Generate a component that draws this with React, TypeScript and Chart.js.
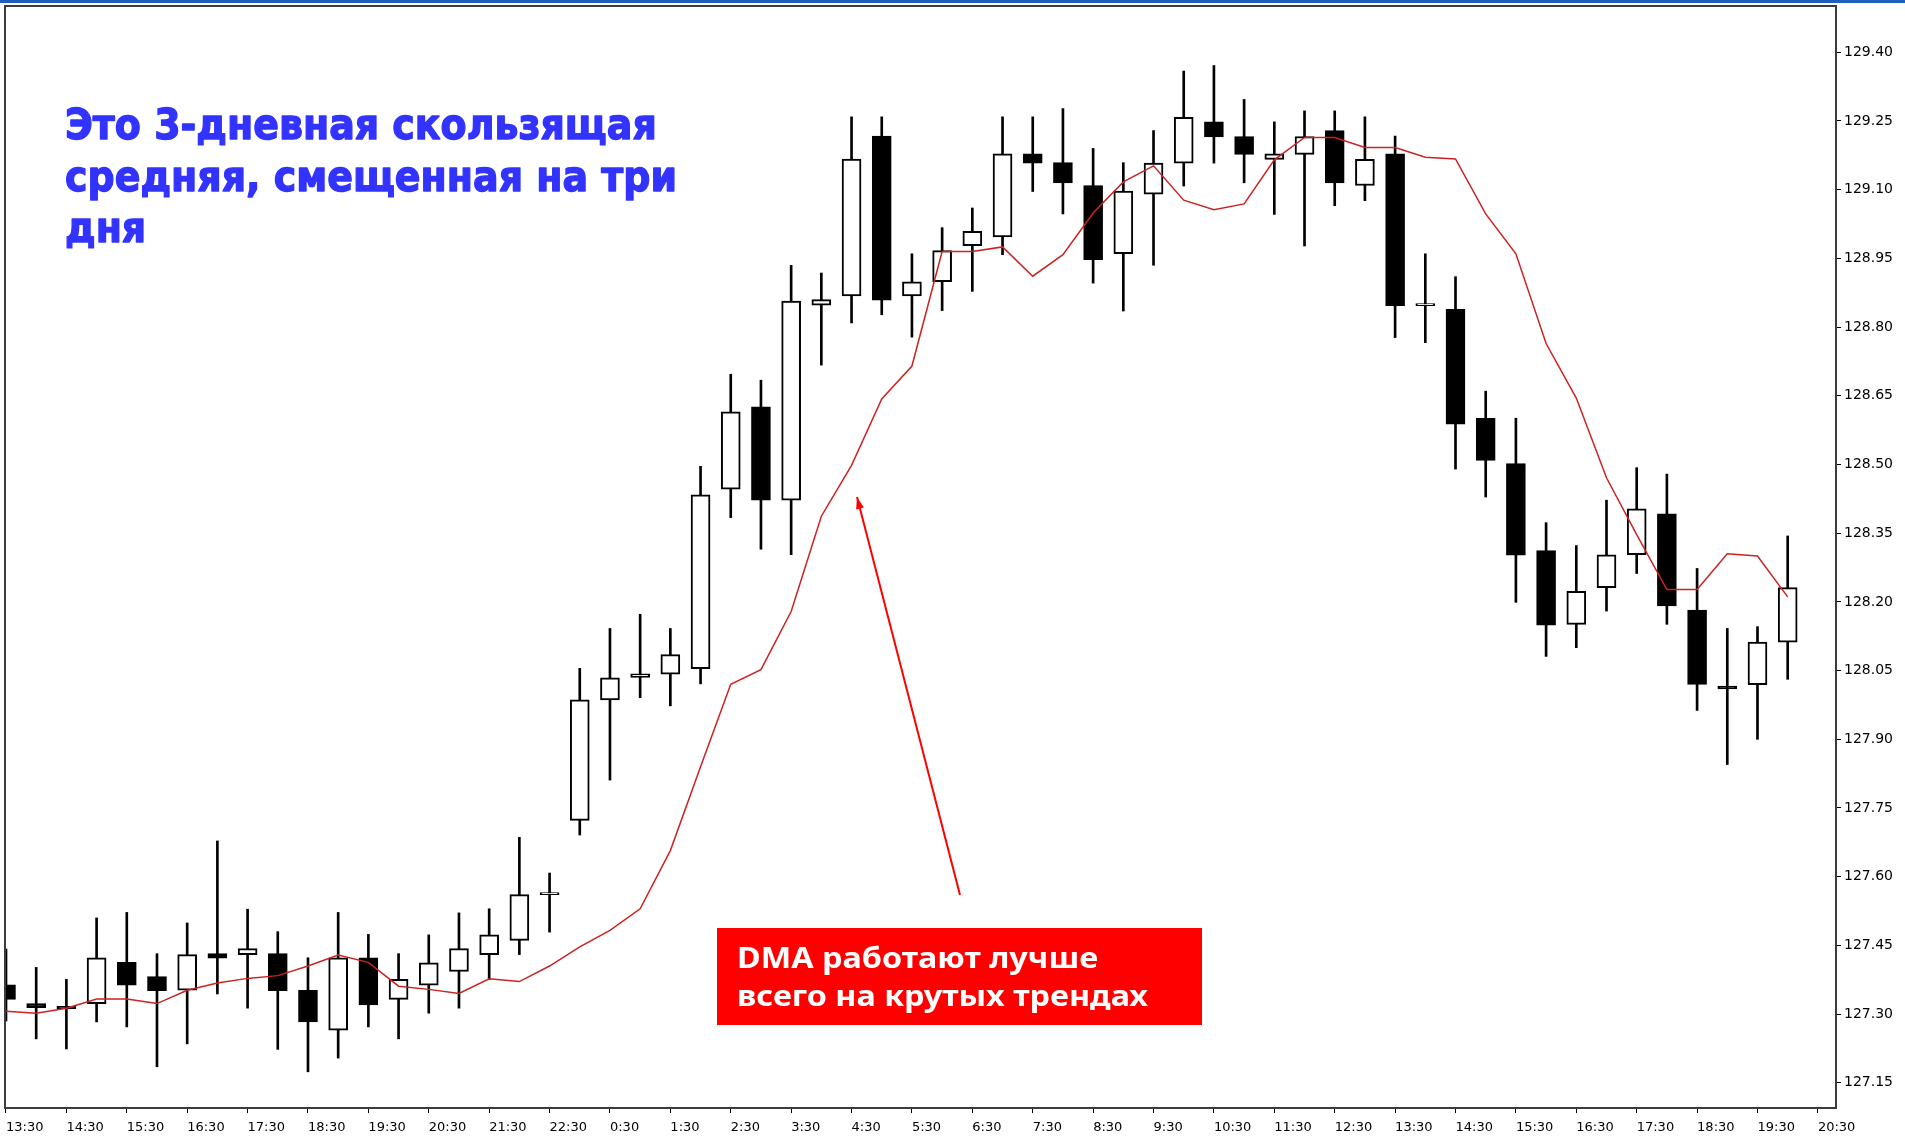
import React, { useEffect, useRef } from 'react';
import { Chart, registerables } from 'chart.js';

Chart.register(...registerables);

// Time tick labels (every second 30-minute slot)
const xTickLabels = [
  '13:30', '14:30', '15:30', '16:30', '17:30', '18:30', '19:30', '20:30', '21:30', '22:30',
  '0:30', '1:30', '2:30', '3:30', '4:30', '5:30', '6:30', '7:30', '8:30', '9:30', '10:30',
  '11:30', '12:30', '13:30', '14:30', '15:30', '16:30', '17:30', '18:30', '19:30', '20:30',
];
const xTickSlots = [
  0, 2, 4, 6, 8, 10, 12, 14, 16, 18, 20, 22, 24, 26, 28, 30,
  32, 34, 36, 38, 40, 42, 44, 46, 48, 50, 52, 54, 56, 58, 60,
];
const yTickValues = [
  127.15, 127.3, 127.45, 127.6, 127.75, 127.9, 128.05, 128.2,
  128.35, 128.5, 128.65, 128.8, 128.95, 129.1, 129.25, 129.4,
];

// 30-minute candles
const opens = [
  127.364, 127.323, 127.317, 127.323, 127.413, 127.382, 127.352, 127.432, 127.430, 127.432,
  127.352, 127.265, 127.423, 127.332, 127.363, 127.393, 127.430, 127.461, 127.561, 127.723,
  127.986, 128.035, 128.042, 128.054, 128.446, 128.626, 128.422, 128.848, 128.868, 129.217,
  128.868, 128.899, 128.978, 128.997, 129.178, 129.159, 129.109, 128.960, 129.090, 129.158,
  129.248, 129.216, 129.166, 129.177, 129.229, 129.109, 129.178, 128.847, 128.839, 128.601,
  128.502, 128.312, 128.151, 128.231, 128.303, 128.392, 128.182, 128.016, 128.019, 128.112,
];
const highs = [
  127.442, 127.402, 127.376, 127.510, 127.522, 127.432, 127.499, 127.678, 127.529, 127.480,
  127.423, 127.522, 127.474, 127.432, 127.473, 127.521, 127.530, 127.686, 127.608, 128.055,
  128.142, 128.173, 128.142, 128.496, 128.697, 128.684, 128.935, 128.918, 129.259, 129.259,
  128.960, 129.017, 129.060, 129.259, 129.259, 129.277, 129.190, 129.159, 129.229, 129.359,
  129.371, 129.297, 129.248, 129.272, 129.272, 129.259, 129.217, 128.960, 128.910, 128.660,
  128.601, 128.373, 128.323, 128.422, 128.493, 128.479, 128.273, 128.142, 128.146, 128.344,
];
const lows = [
  127.285, 127.246, 127.224, 127.283, 127.272, 127.185, 127.235, 127.344, 127.313, 127.223,
  127.174, 127.204, 127.272, 127.246, 127.302, 127.313, 127.375, 127.430, 127.479, 127.691,
  127.811, 127.991, 127.973, 128.021, 128.384, 128.315, 128.303, 128.717, 128.809, 128.827,
  128.778, 128.836, 128.878, 128.958, 129.096, 129.047, 128.896, 128.835, 128.935, 129.108,
  129.158, 129.115, 129.046, 128.977, 129.065, 129.076, 128.777, 128.766, 128.490, 128.429,
  128.199, 128.081, 128.100, 128.180, 128.262, 128.151, 127.963, 127.845, 127.900, 128.031,
];
const closes = [
  127.332, 127.314, 127.312, 127.423, 127.363, 127.351, 127.430, 127.422, 127.443, 127.351,
  127.283, 127.423, 127.320, 127.376, 127.412, 127.443, 127.473, 127.561, 127.562, 127.986,
  128.034, 128.043, 128.085, 128.434, 128.615, 128.422, 128.857, 128.860, 129.167, 128.859,
  128.899, 128.967, 129.009, 129.178, 129.158, 129.115, 128.947, 129.097, 129.158, 129.258,
  129.215, 129.177, 129.178, 129.216, 129.115, 129.166, 128.847, 128.848, 128.588, 128.509,
  128.302, 128.149, 128.223, 128.303, 128.403, 128.191, 128.020, 128.010, 128.112, 128.231,
];
// 3-period moving average displaced forward by 3 bars (DMA)
const dma = [
  127.306, 127.302, 127.313, 127.333, 127.333, 127.323, 127.352, 127.368, 127.378, 127.384,
  127.405, 127.429, 127.413, 127.361, 127.354, 127.345, 127.377, 127.371, 127.405, 127.447,
  127.483, 127.530, 127.657, 127.840, 128.020, 128.052, 128.179, 128.387, 128.498, 128.643,
  128.715, 128.965, 128.965, 128.975, 128.911, 128.958, 129.049, 129.117, 129.152, 129.077,
  129.056, 129.069, 129.165, 129.214, 129.214, 129.192, 129.192, 129.171, 129.167, 129.047,
  128.960, 128.764, 128.645, 128.471, 128.347, 128.227, 128.227, 128.305, 128.300, 128.211,
];

const titleLines = ['Это 3-дневная скользящая', 'средняя, смещенная на три', 'дня'];
const noteLines = ['DMA работают лучше', 'всего на крутых трендах'];

export default function App() {
  const ref = useRef<HTMLCanvasElement>(null);

  useEffect(() => {
    if (!ref.current) return;
    const slots = opens.map((_, i) => i);
    const bull = opens.map((o, i) => closes[i] >= o);

    const decor = {
      id: 'decor',
      beforeDraw(chart: any) {
        const ctx = chart.ctx;
        ctx.save();
        ctx.fillStyle = '#ffffff';
        ctx.fillRect(0, 0, chart.width, chart.height);
        ctx.fillStyle = '#1c5fbf';
        ctx.fillRect(0, 0, chart.width, 3);
        ctx.restore();
      },
      afterDraw(chart: any) {
        const ctx = chart.ctx;
        const a = chart.chartArea;
        ctx.save();
        // plot frame
        ctx.strokeStyle = '#3c3c3c';
        ctx.lineWidth = 2;
        ctx.strokeRect(a.left, a.top, a.right - a.left, a.bottom - a.top);

        // blue title
        ctx.fillStyle = '#3333ff';
        ctx.strokeStyle = '#3333ff';
        ctx.lineWidth = 1.4;
        ctx.lineJoin = 'round';
        ctx.font = 'bold 43px "DejaVu Sans"';
        ctx.textBaseline = 'alphabetic';
        ctx.textAlign = 'left';
        const sx = 612 / ctx.measureText(titleLines[1]).width;
        const tBase = [139, 191, 242];
        titleLines.forEach((t, i) => {
          ctx.save();
          ctx.translate(65, tBase[i]);
          ctx.scale(sx, 1);
          ctx.fillText(t, 0, 0);
          ctx.strokeText(t, 0, 0);
          ctx.restore();
        });

        // red note box
        ctx.fillStyle = '#ff0000';
        ctx.fillRect(717, 928, 485, 97);
        ctx.fillStyle = '#ffffff';
        ctx.font = 'bold 29px "Noto Sans"';
        const nx = 411 / ctx.measureText(noteLines[1]).width;
        const nBase = [968, 1006];
        noteLines.forEach((t, i) => {
          ctx.save();
          ctx.translate(737, nBase[i]);
          ctx.scale(nx, 1);
          ctx.fillText(t, 0, 0);
          ctx.restore();
        });

        // arrow
        const x0 = 960, y0 = 895, x1 = 857, y1 = 497;
        ctx.strokeStyle = '#ff0000';
        ctx.fillStyle = '#ff0000';
        ctx.lineWidth = 2;
        ctx.beginPath();
        ctx.moveTo(x0, y0);
        ctx.lineTo(x1, y1);
        ctx.stroke();
        const ang = Math.atan2(y1 - y0, x1 - x0);
        const L = 12, W = 4;
        ctx.beginPath();
        ctx.moveTo(x1, y1);
        ctx.lineTo(x1 - L * Math.cos(ang) + W * Math.sin(ang), y1 - L * Math.sin(ang) - W * Math.cos(ang));
        ctx.lineTo(x1 - L * Math.cos(ang) - W * Math.sin(ang), y1 - L * Math.sin(ang) + W * Math.cos(ang));
        ctx.closePath();
        ctx.fill();
        ctx.restore();
      },
    };

    const chart = new Chart(ref.current, {
      type: 'bar',
      data: {
        datasets: [
          {
            type: 'line',
            label: 'DMA',
            data: slots.map((i) => ({ x: i, y: dma[i] })),
            borderColor: '#cc2222',
            borderWidth: 1.5,
            pointRadius: 0,
            tension: 0,
            order: 0,
          } as any,
          {
            label: 'body',
            data: slots.map((i) => ({ x: i, y: [opens[i], closes[i]] })),
            backgroundColor: slots.map((i) => (bull[i] ? '#ffffff' : '#000000')),
            borderColor: '#000000',
            borderWidth: 2,
            borderSkipped: false,
            barThickness: 19,
            minBarLength: 2,
            grouped: false,
            order: 1,
          },
          {
            label: 'wick',
            data: slots.map((i) => ({ x: i, y: [lows[i], highs[i]] })),
            backgroundColor: '#000000',
            borderWidth: 0,
            barThickness: 2,
            grouped: false,
            order: 2,
          },
        ],
      },
      options: {
        responsive: false,
        animation: false,
        events: [],
        layout: { padding: { left: 5, top: 6, right: 0, bottom: 0 } },
        plugins: { legend: { display: false }, tooltip: { enabled: false } },
        scales: {
          x: {
            type: 'linear',
            min: -0.033,
            max: 60.6,
            offset: false,
            afterBuildTicks: (s: any) => {
              s.ticks = xTickSlots.map((v) => ({ value: v }));
            },
            afterFit: (s: any) => {
              s.height = 32;
              s.paddingLeft = 0;
              s.paddingRight = 0;
            },
            ticks: {
              autoSkip: false,
              maxRotation: 0,
              minRotation: 0,
              align: 'start',
              padding: 7,
              color: '#000000',
              font: { family: 'DejaVu Sans', size: 13 },
              callback: (v: any) => xTickLabels[xTickSlots.indexOf(Number(v))] ?? '',
            },
            grid: { drawOnChartArea: false, drawTicks: true, tickLength: 5, tickColor: '#000000', offset: false },
            border: { display: false },
          },
          y: {
            type: 'linear',
            position: 'right',
            min: 127.095,
            max: 129.501,
            afterBuildTicks: (s: any) => {
              s.ticks = yTickValues.map((v) => ({ value: v }));
            },
            afterFit: (s: any) => {
              s.width = 69;
              s.paddingTop = 0;
              s.paddingBottom = 0;
            },
            ticks: {
              padding: 3,
              color: '#000000',
              font: { family: 'DejaVu Sans', size: 14 },
              callback: (v: any) => Number(v).toFixed(2),
            },
            grid: { drawOnChartArea: false, drawTicks: true, tickLength: 5, tickColor: '#000000' },
            border: { display: false },
          },
        },
      } as any,
      plugins: [decor],
    });
    return () => chart.destroy();
  }, []);

  return (
    <div style={{ position: 'fixed', left: 0, top: 0, width: 1905, height: 1140, background: '#ffffff' }}>
      <canvas ref={ref} width={1905} height={1140} style={{ display: 'block' }} />
    </div>
  );
}
